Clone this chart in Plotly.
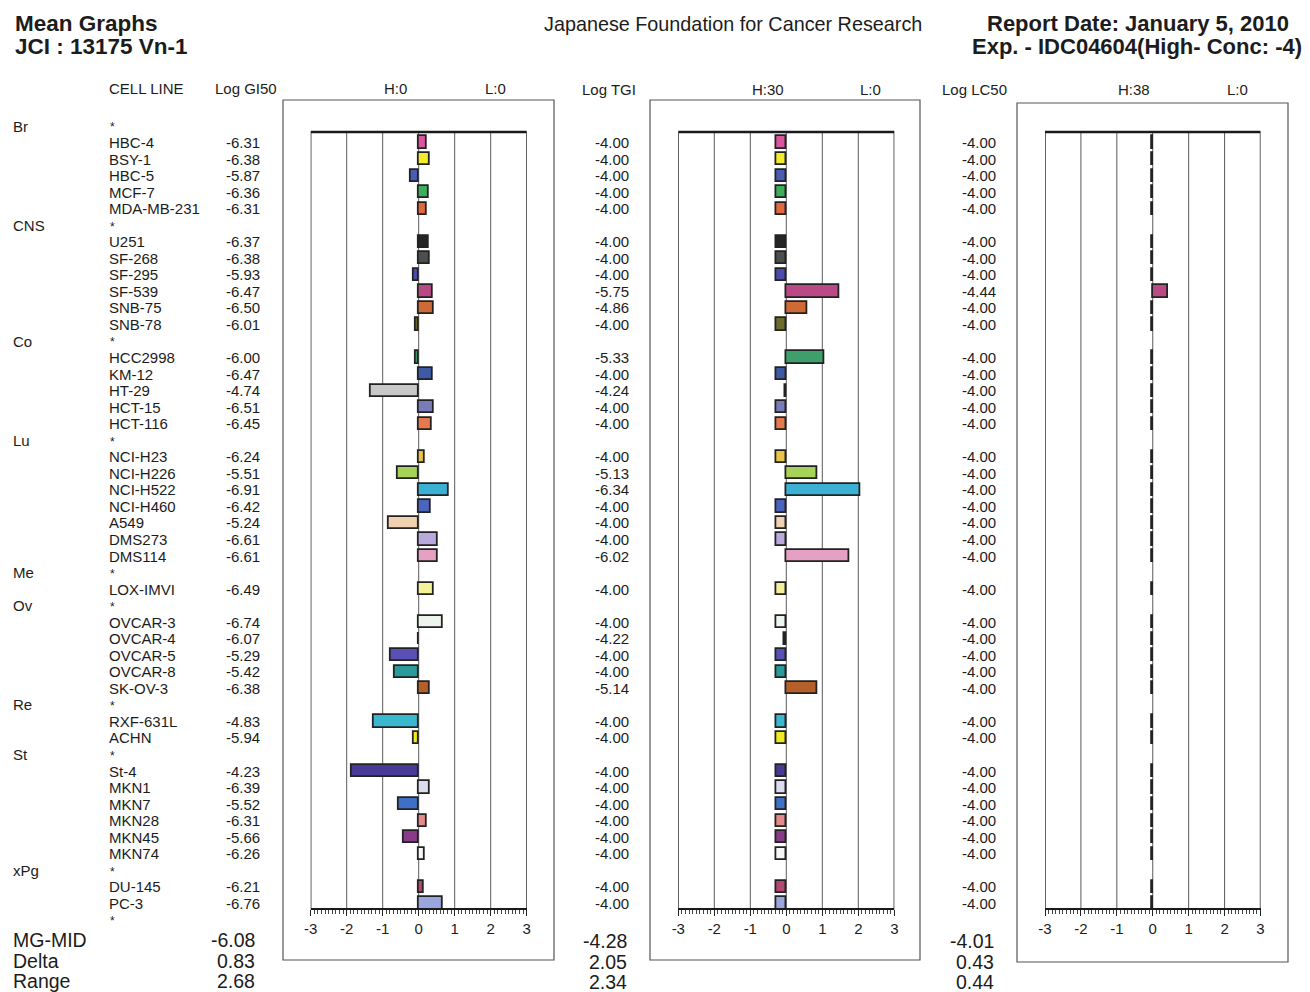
import plotly.graph_objects as go

W, H = 1310, 992

# ---------------- data ----------------
groups = ["Br", "CNS", "Co", "Lu", "Me", "Ov", "Re", "St", "xPg"]
group_sizes = [5, 6, 5, 7, 1, 5, 2, 6, 2]
cell_lines = ["HBC-4", "BSY-1", "HBC-5", "MCF-7", "MDA-MB-231",
              "U251", "SF-268", "SF-295", "SF-539", "SNB-75", "SNB-78",
              "HCC2998", "KM-12", "HT-29", "HCT-15", "HCT-116",
              "NCI-H23", "NCI-H226", "NCI-H522", "NCI-H460", "A549", "DMS273", "DMS114",
              "LOX-IMVI",
              "OVCAR-3", "OVCAR-4", "OVCAR-5", "OVCAR-8", "SK-OV-3",
              "RXF-631L", "ACHN",
              "St-4", "MKN1", "MKN7", "MKN28", "MKN45", "MKN74",
              "DU-145", "PC-3"]
log_gi50 = [-6.31, -6.38, -5.87, -6.36, -6.31,
            -6.37, -6.38, -5.93, -6.47, -6.50, -6.01,
            -6.00, -6.47, -4.74, -6.51, -6.45,
            -6.24, -5.51, -6.91, -6.42, -5.24, -6.61, -6.61,
            -6.49,
            -6.74, -6.07, -5.29, -5.42, -6.38,
            -4.83, -5.94,
            -4.23, -6.39, -5.52, -6.31, -5.66, -6.26,
            -6.21, -6.76]
log_tgi = [-4.00, -4.00, -4.00, -4.00, -4.00,
           -4.00, -4.00, -4.00, -5.75, -4.86, -4.00,
           -5.33, -4.00, -4.24, -4.00, -4.00,
           -4.00, -5.13, -6.34, -4.00, -4.00, -4.00, -6.02,
           -4.00,
           -4.00, -4.22, -4.00, -4.00, -5.14,
           -4.00, -4.00,
           -4.00, -4.00, -4.00, -4.00, -4.00, -4.00,
           -4.00, -4.00]
log_lc50 = [-4.00, -4.00, -4.00, -4.00, -4.00,
            -4.00, -4.00, -4.00, -4.44, -4.00, -4.00,
            -4.00, -4.00, -4.00, -4.00, -4.00,
            -4.00, -4.00, -4.00, -4.00, -4.00, -4.00, -4.00,
            -4.00,
            -4.00, -4.00, -4.00, -4.00, -4.00,
            -4.00, -4.00,
            -4.00, -4.00, -4.00, -4.00, -4.00, -4.00,
            -4.00, -4.00]
cell_colors = ["#d9559e", "#f2ec2c", "#4a5cb4", "#3fae5c", "#e2693c",
               "#252525", "#4b4f4f", "#4c4cae", "#b94a86", "#cf6a36", "#6e6a2c",
               "#3f9f6a", "#3f5aa5", "#c8c8c8", "#7a7cba", "#e67a4e",
               "#e9c445", "#a6d25a", "#3bb0d2", "#4b64c0", "#f0d2b0", "#b9a9dd", "#e6a0c4",
               "#f5f09a",
               "#eef5ee", "#2a2a2a", "#5a4fb5", "#2a9a9a", "#b5602a",
               "#3ab8d0", "#f0ea20",
               "#4a3a98", "#dcdcf0", "#3f70c8", "#e58a8a", "#8a3a8a", "#f5f8f5",
               "#b54870", "#9aa5dd"]
measures = [log_gi50, log_tgi, log_lc50]
mg_mid = [-6.08, -4.28, -4.01]
delta = [0.83, 2.05, 0.43]
value_range = [2.68, 2.34, 0.44]
panel_titles = ["Log GI50", "Log TGI", "Log LC50"]
high_labels = ["H:0", "H:30", "H:38"]
low_labels = ["L:0", "L:0", "L:0"]
tick_values = [-3, -2, -1, 0, 1, 2, 3]
stat_names = ["MG-MID", "Delta", "Range"]

# ---------------- layout helpers (pixel geometry of the page) ----------------
OFF_X, OFF_Y = 8, 8   # page body margin


def px(x):
    return (x - OFF_X) / W


def py(y):
    return 1 - (y - OFF_Y) / H


ROW0, ROWH = 126.0, 16.54
FONT = "Liberation Sans, Arial, Helvetica, sans-serif"
TXT = "#1c1c1c"

panels = [
    dict(inner=(310.7, 526.7), outer=(283, 554, 100, 960), val_right=262, stat_right=257,
         title_x=213, title_y=88, h_x=395, l_x=495, stat_y=[940, 961, 981]),
    dict(inner=(678.3, 894.3), outer=(650, 920, 100, 960), val_right=631, stat_right=629,
         title_x=580, title_y=90, h_x=768, l_x=870, stat_y=[941, 962, 982]),
    dict(inner=(1045.0, 1260.5), outer=(1017, 1288, 103, 962), val_right=998, stat_right=996,
         title_x=940, title_y=90, h_x=1134, l_x=1237, stat_y=[941, 962, 982]),
]
BOX_TOP, AXIS_Y = 132, 909

# row indices
group_rows, cell_rows = [], []
r = 0
for g, n in zip(groups, group_sizes):
    group_rows.append(r)
    r += 1
    for _ in range(n):
        cell_rows.append(r)
        r += 1
final_star_row = r

fig = go.Figure()
shapes = []
annotations = []


def txt(text, x, y, anchor="left", size=15, yref="paper"):
    return dict(text=text, xref="paper", yref=yref, x=px(x), y=y,
                xanchor=anchor, yanchor="middle", showarrow=False,
                font=dict(family=FONT, size=size, color=TXT))


axis_names = ["x", "x2", "x3"]
for k, (meas, pan) in enumerate(zip(measures, panels)):
    xa = axis_names[k]
    bar_len = [round(mg_mid[k] - v, 4) for v in meas]
    fig.add_trace(go.Bar(
        x=bar_len, y=cell_rows, orientation="h", base=0,
        width=0.74,
        marker=dict(color=cell_colors, line=dict(color="#222222", width=1.8)),
        xaxis=xa, yaxis="y", showlegend=False, hoverinfo="skip",
    ))
    # gridlines and box
    for gx in [-2, -1, 0, 1, 2]:
        shapes.append(dict(type="line", xref=xa, yref="paper", x0=gx, x1=gx,
                           y0=py(AXIS_Y), y1=py(BOX_TOP), layer="below",
                           line=dict(color="#5a5a5a", width=1)))
    shapes.append(dict(type="rect", xref=xa, yref="paper", x0=-3, x1=3,
                       y0=py(AXIS_Y), y1=py(BOX_TOP), layer="below",
                       line=dict(color="#222222", width=1.4)))
    shapes.append(dict(type="line", xref=xa, yref="paper", x0=-3, x1=3,
                       y0=py(BOX_TOP), y1=py(BOX_TOP),
                       line=dict(color="#1a1a1a", width=2.4)))
    ox0, ox1, oy0, oy1 = pan["outer"]
    shapes.append(dict(type="rect", xref="paper", yref="paper", x0=px(ox0), x1=px(ox1),
                       y0=py(oy1), y1=py(oy0), layer="below",
                       line=dict(color="#555555", width=1.2)))
    # values column
    for row, v in zip(cell_rows, meas):
        annotations.append(txt(f"{v:.2f}", pan["val_right"], row, "right", 15, "y"))
    # headers
    annotations.append(txt(panel_titles[k], pan["title_x"], py(pan["title_y"]), "left"))
    annotations.append(txt(high_labels[k], pan["h_x"], py(pan["title_y"]), "center"))
    annotations.append(txt(low_labels[k], pan["l_x"], py(pan["title_y"]), "center"))
    # stats
    for sval, sy in zip([mg_mid[k], delta[k], value_range[k]], pan["stat_y"]):
        annotations.append(txt(f"{sval:.2f}", pan["stat_right"], py(sy), "right", 19.5))

# stat names
for sname, sy in zip(stat_names, panels[0]["stat_y"]):
    annotations.append(txt(sname, 11, py(sy), "left", 19.5))

# group labels and asterisks
for g, row in zip(groups, group_rows):
    annotations.append(txt(g, 11, row, "left", 15, "y"))
for row in group_rows + [final_star_row]:
    annotations.append(txt("*", 108, row + 0.08, "left", 12, "y"))
# cell names
for name, row in zip(cell_lines, cell_rows):
    annotations.append(txt(name, 107, row, "left", 15, "y"))

# header texts
annotations += [
    txt("CELL LINE", 107, py(88), "left", 15),
    txt("<b>Mean Graphs</b>", 13, py(24), "left", 22.5),
    txt("<b>JCI : 13175 Vn-1</b>", 13, py(46), "left", 22.5),
    txt("Japanese Foundation for Cancer Research", 733, py(24), "center", 19.8),
    txt("<b>Report Date: January 5, 2010</b>", 1291, py(24), "right", 22),
    txt("<b>Exp. - IDC04604(High- Conc: -4)</b>", 1304, py(47), "right", 22),
]

layout_axes = {}
for k, pan in enumerate(panels):
    key = "xaxis" if k == 0 else f"xaxis{k + 1}"
    layout_axes[key] = dict(
        domain=[px(pan["inner"][0]), px(pan["inner"][1])],
        range=[-3, 3], anchor="free", position=py(AXIS_Y),
        automargin=False,
        showgrid=False, zeroline=False, showline=True,
        linecolor="#1a1a1a", linewidth=2,
        ticks="outside", ticklen=6, tickwidth=1.2, tickcolor="#222222",
        tickvals=tick_values, ticktext=[str(t) for t in tick_values],
        tickfont=dict(family=FONT, size=15, color=TXT),
        minor=dict(dtick=0.1, tick0=0, ticks="outside", ticklen=4,
                   tickwidth=1, tickcolor="#444444", showgrid=False),
        fixedrange=True,
    )

fig.update_layout(
    width=W, height=H,
    margin=dict(l=0, r=0, t=0, b=0, pad=0, autoexpand=False),
    paper_bgcolor="white", plot_bgcolor="rgba(0,0,0,0)",
    yaxis=dict(domain=[0, 1],
               range=[(H + OFF_Y - ROW0) / ROWH, (OFF_Y - ROW0) / ROWH],
               visible=False, fixedrange=True, anchor="x", automargin=False),
    shapes=shapes, annotations=annotations,
    bargap=0, showlegend=False,
    **layout_axes,
)

fig.write_html("out.html")
